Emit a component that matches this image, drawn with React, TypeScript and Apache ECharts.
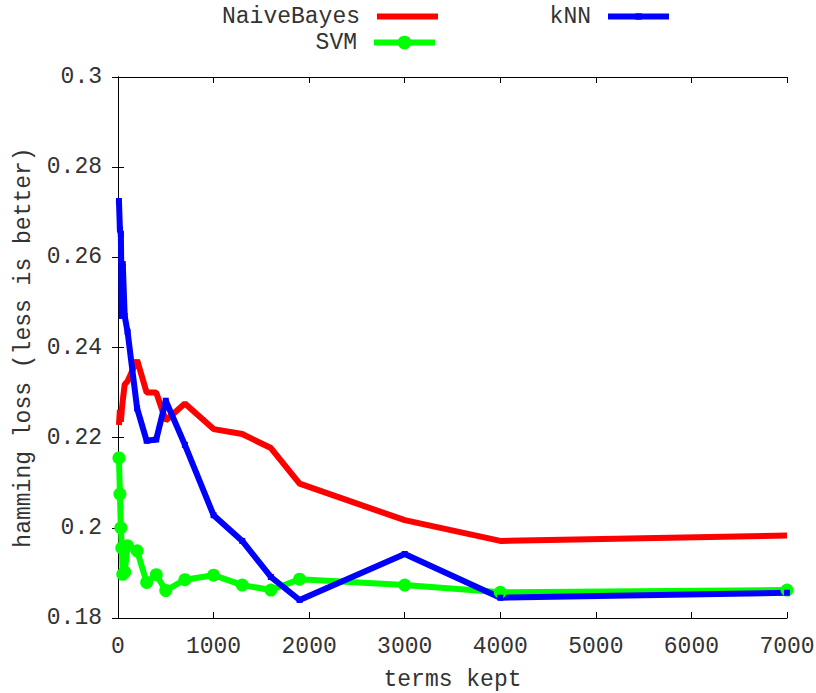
import React, { useEffect, useRef } from "react";
import * as echarts from "echarts";

const termsKept = [10, 20, 30, 40, 50, 70, 100, 200, 300, 400, 500, 700, 1000, 1300, 1600, 1900, 3000, 4000, 7000];
const naiveBayes = [0.2228, 0.2262, 0.2235, 0.2262, 0.2282, 0.2318, 0.2325, 0.2372, 0.2300, 0.2300, 0.2238, 0.2276, 0.2219, 0.2208, 0.2177, 0.2098, 0.2017, 0.1971, 0.1983];
const svm = [0.2155, 0.2075, 0.2000, 0.1955, 0.1897, 0.1902, 0.1960, 0.1949, 0.1879, 0.1896, 0.1861, 0.1885, 0.1895, 0.1873, 0.1862, 0.1886, 0.1873, 0.1857, 0.1862];
const knn = [0.2725, 0.2662, 0.2652, 0.2470, 0.2585, 0.2470, 0.2435, 0.2265, 0.2193, 0.2196, 0.2282, 0.2184, 0.2028, 0.1971, 0.1891, 0.1840, 0.1942, 0.1845, 0.1856];

const seriesNames = ["NaiveBayes", "SVM", "kNN"];
const xTitle = "terms kept";
const yTitle = "hamming loss (less is better)";

const FONT = "Liberation Mono";
const TXT = "#333";

function pairs(ys: number[]) {
  return termsKept.map((x, i) => [x, ys[i]]);
}

export default function App() {
  const ref = useRef<HTMLDivElement>(null);
  useEffect(() => {
    if (!ref.current) return;
    const chart = echarts.init(ref.current, undefined, { renderer: "svg" });
    const textStyle = { fontFamily: FONT, fontSize: 23, color: TXT };
    const axisCommon = {
      axisLine: { show: true, lineStyle: { color: "#000", width: 1 } },
      axisTick: { show: true, inside: true, length: 6, lineStyle: { color: "#000", width: 1 } },
      splitLine: { show: false },
    };
    chart.setOption({
      animation: false,
      backgroundColor: "#fff",
      grid: { left: 118, right: 29, top: 77, bottom: 75, containLabel: false, outerBoundsMode: "none" },
      legend: [
        {
          data: [{ name: seriesNames[0], icon: "rect" }],
          right: 816 - 438,
          top: 5,
          padding: 0,
          align: "right",
          itemWidth: 61,
          itemHeight: 6,
          textStyle: { ...textStyle, padding: [0, 12, 0, 0] },
        },
        {
          data: [seriesNames[2]],
          right: 816 - 672,
          top: 5,
          padding: 0,
          align: "right",
          itemWidth: 61,
          itemHeight: 8,
          lineStyle: { width: 6 },
          textStyle: { ...textStyle, padding: [0, 12, 0, 0] },
        },
        {
          data: [seriesNames[1]],
          right: 816 - 438,
          top: 31,
          padding: 0,
          align: "right",
          itemWidth: 61,
          itemHeight: 17,
          lineStyle: { width: 6 },
          textStyle: { ...textStyle, padding: [0, 12, 0, 0] },
        },
      ],
      xAxis: [
        {
          type: "value",
          min: 0,
          max: 7000,
          interval: 1000,
          position: "bottom",
          name: xTitle,
          nameLocation: "middle",
          nameGap: 50,
          nameTextStyle: textStyle,
          axisLabel: { ...textStyle, margin: 17, formatter: (v: number) => String(v) },
          ...axisCommon,
        },
        {
          type: "value",
          min: 0,
          max: 7000,
          interval: 1000,
          position: "top",
          axisLabel: { show: false },
          ...axisCommon,
        },
      ],
      yAxis: [
        {
          type: "value",
          min: 0.18,
          max: 0.3,
          interval: 0.02,
          position: "left",
          name: yTitle,
          nameLocation: "middle",
          nameGap: 80,
          nameTextStyle: textStyle,
          axisLabel: { ...textStyle, margin: 16 },
          ...axisCommon,
        },
        {
          type: "value",
          min: 0.18,
          max: 0.3,
          interval: 0.02,
          position: "right",
          axisLabel: { show: false },
          ...axisCommon,
        },
      ],
      series: [
        {
          name: seriesNames[0],
          type: "line",
          data: pairs(naiveBayes),
          showSymbol: false,
          symbol: "none",
          color: "#ff0000",
          lineStyle: { width: 6, color: "#ff0000" },
          itemStyle: { color: "#ff0000" },
        },
        {
          name: seriesNames[1],
          type: "line",
          data: pairs(svm),
          symbol: "circle",
          symbolSize: 13,
          color: "#00ff00",
          lineStyle: { width: 6, color: "#00ff00" },
          itemStyle: { color: "#00ff00" },
        },
        {
          name: seriesNames[2],
          type: "line",
          data: pairs(knn),
          symbol: "rect",
          symbolSize: 6,
          color: "#0000ff",
          lineStyle: { width: 6, color: "#0000ff" },
          itemStyle: { color: "#0000ff" },
        },
      ],
    });
    return () => chart.dispose();
  }, []);
  return <div ref={ref} style={{ width: 816, height: 693, position: "absolute", left: 0, top: 0 }} />;
}
